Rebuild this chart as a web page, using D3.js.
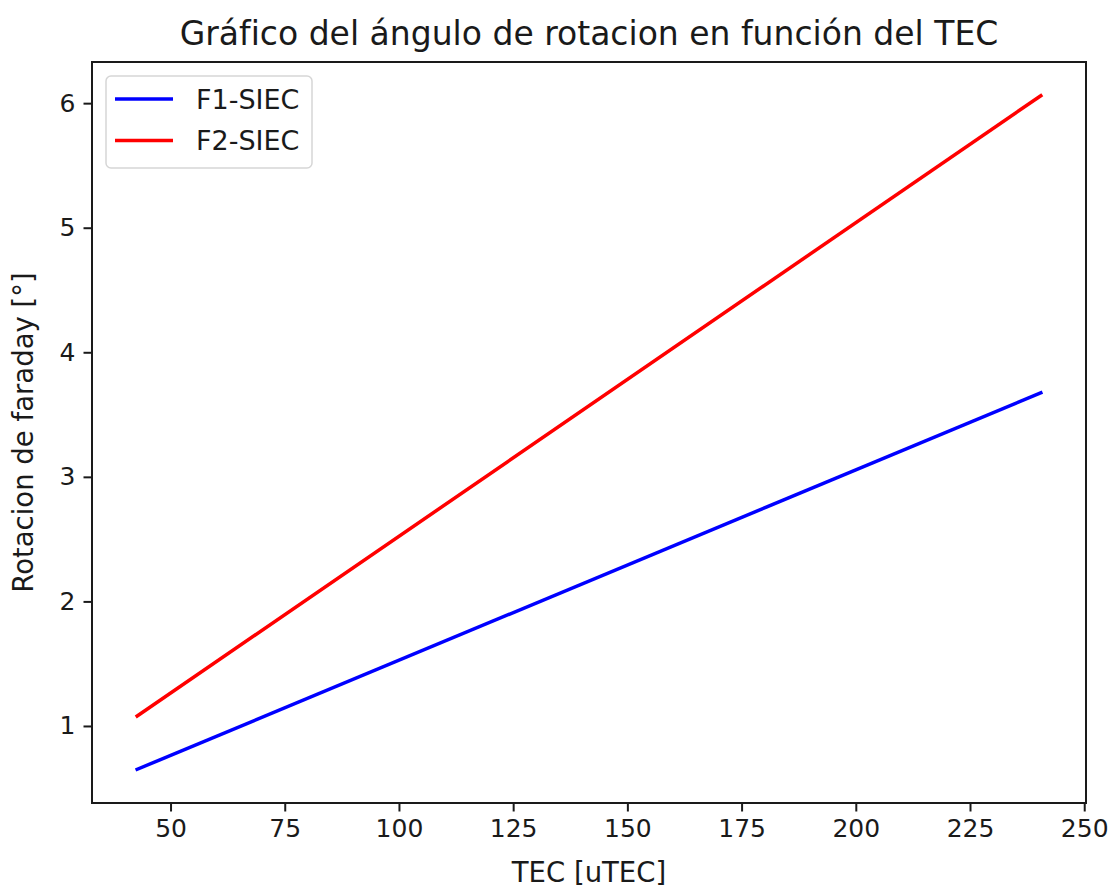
<!DOCTYPE html>
<html lang="es">
<head>
<meta charset="utf-8">
<title>Gráfico del ángulo de rotacion en función del TEC</title>
<style>
  body { margin: 0; background: #fff; }
  text { font-family: "DejaVu Sans", sans-serif; fill: #1a1a1a; }
</style>
</head>
<body>
<script src="https://cdn.jsdelivr.net/npm/d3@7"></script>
<script>
// data (both series are straight lines)
var tec = [42.7, 240.5];
var f1Siec = [0.652, 3.675];
var f2Siec = [1.08, 6.06];
var seriesNames = ["F1-SIEC", "F2-SIEC"];
var seriesColors = ["#0000ff", "#ff0000"];
var xTicks = [50, 75, 100, 125, 150, 175, 200, 225, 250];
var yTicks = [1, 2, 3, 4, 5, 6];

var W = 1117, H = 889;
var margin = {top: 62, right: 31, bottom: 86, left: 92};
var width = W - margin.left - margin.right,
    height = H - margin.top - margin.bottom;

// matplotlib style 5% padding around data
function pad(ext) { var d = (ext[1] - ext[0]) * 0.05; return [ext[0] - d, ext[1] + d]; }

var xScale = d3.scaleLinear().domain(pad(d3.extent(tec))).range([0, width]);
var yScale = d3.scaleLinear().domain(pad(d3.extent(f1Siec.concat(f2Siec)))).range([height, 0]);

var svg = d3.select("body").append("svg")
    .attr("width", W).attr("height", H);
var g = svg.append("g")
    .attr("transform", "translate(" + margin.left + "," + margin.top + ")");

// lines
var line = d3.line()
    .x(function(d) { return xScale(d[0]); })
    .y(function(d) { return yScale(d[1]); });

[f1Siec, f2Siec].forEach(function(vals, i) {
  g.append("path")
      .datum(tec.map(function(t, j) { return [t, vals[j]]; }))
      .attr("fill", "none")
      .attr("stroke", seriesColors[i])
      .attr("stroke-width", 3.5)
      .attr("stroke-linecap", "square")
      .attr("d", line);
});

// axes
var xAxis = g.append("g")
    .attr("transform", "translate(0," + height + ")")
    .call(d3.axisBottom(xScale).tickValues(xTicks).tickSize(8.5).tickPadding(8).tickSizeOuter(0));
var yAxis = g.append("g")
    .call(d3.axisLeft(yScale).tickValues(yTicks).tickFormat(d3.format("d"))
      .tickSize(8.5).tickPadding(8).tickSizeOuter(0));

[xAxis, yAxis].forEach(function(ax) {
  ax.select(".domain").remove();
  ax.selectAll(".tick line").attr("stroke", "#1a1a1a").attr("stroke-width", 2);
  ax.selectAll(".tick text").style("font-size", "25px").style("font-family", "DejaVu Sans").attr("fill", "#1a1a1a");
});

// frame
g.append("rect")
    .attr("width", width).attr("height", height)
    .attr("fill", "none").attr("stroke", "#1a1a1a").attr("stroke-width", 2);

// title and labels
svg.append("text")
    .attr("x", margin.left + width / 2).attr("y", 45)
    .attr("text-anchor", "middle")
    .style("font-size", "33px")
    .text("Gráfico del ángulo de rotacion en función del TEC");

svg.append("text")
    .attr("x", margin.left + width / 2).attr("y", 882)
    .attr("text-anchor", "middle")
    .style("font-size", "27.5px")
    .text("TEC [uTEC]");

svg.append("text")
    .attr("transform", "translate(33," + (margin.top + height / 2) + ") rotate(-90)")
    .attr("text-anchor", "middle")
    .style("font-size", "27.5px")
    .text("Rotacion de faraday [°]");

// legend
var legend = g.append("g").attr("transform", "translate(14,14)");
legend.append("rect")
    .attr("width", 206).attr("height", 92)
    .attr("rx", 5).attr("ry", 5)
    .attr("fill", "#fff").attr("fill-opacity", 0.8)
    .attr("stroke", "#d6d6d6").attr("stroke-width", 1.5);

seriesNames.forEach(function(name, i) {
  var yy = 23 + i * 41.5;
  legend.append("line")
      .attr("x1", 9).attr("x2", 67).attr("y1", yy).attr("y2", yy)
      .attr("stroke", seriesColors[i]).attr("stroke-width", 3.5);
  legend.append("text")
      .attr("x", 90).attr("y", yy + 9.5)
      .style("font-size", "27px")
      .text(name);
});
</script>
</body>
</html>
